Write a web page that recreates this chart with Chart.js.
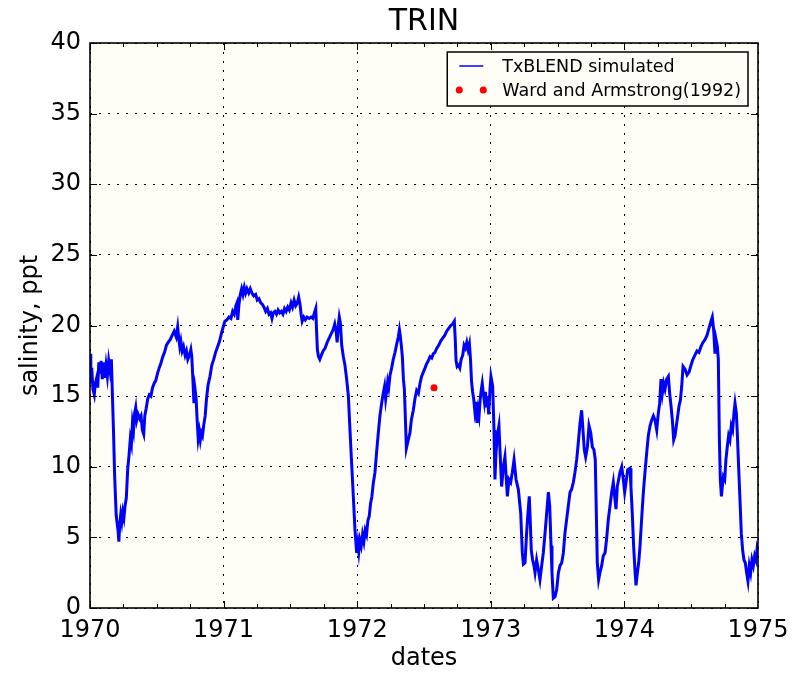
<!DOCTYPE html>
<html>
<head>
<meta charset="utf-8">
<script src="https://cdn.jsdelivr.net/npm/chart.js@4"></script>
<style>
  html, body { margin: 0; padding: 0; background: #ffffff; }
  #wrap { width: 793px; height: 673px; }
</style>
</head>
<body>
<div id="wrap"><canvas id="trinChart"></canvas></div>
<script>
// axis ticks
const yearTicks = [1970, 1971, 1972, 1973, 1974, 1975];
const salinityTicks = [0, 5, 10, 15, 20, 25, 30, 35, 40];

// TxBLEND simulated salinity (decimal year, ppt)
const simDates = [
  1970.000, 1970.006, 1970.013, 1970.022, 1970.032, 1970.040, 1970.050, 1970.058, 1970.066, 1970.075,
  1970.083, 1970.092, 1970.100, 1970.110, 1970.120, 1970.130, 1970.140, 1970.150, 1970.160, 1970.168,
  1970.176, 1970.184, 1970.190, 1970.196, 1970.203, 1970.210, 1970.216, 1970.222, 1970.230, 1970.238,
  1970.246, 1970.254, 1970.262, 1970.272, 1970.282, 1970.292, 1970.302, 1970.310, 1970.318, 1970.326,
  1970.334, 1970.342, 1970.350, 1970.360, 1970.372, 1970.382, 1970.392, 1970.402, 1970.410, 1970.420,
  1970.432, 1970.444, 1970.456, 1970.468, 1970.480, 1970.492, 1970.505, 1970.518, 1970.530, 1970.545,
  1970.558, 1970.572, 1970.585, 1970.600, 1970.615, 1970.630, 1970.645, 1970.656, 1970.665, 1970.672,
  1970.680, 1970.690, 1970.700, 1970.712, 1970.722, 1970.732, 1970.745, 1970.755, 1970.762, 1970.770,
  1970.778, 1970.786, 1970.794, 1970.802, 1970.810, 1970.818, 1970.826, 1970.834, 1970.842, 1970.852,
  1970.862, 1970.872, 1970.884, 1970.898, 1970.912, 1970.926, 1970.940, 1970.955, 1970.970, 1970.985,
  1971.000, 1971.010, 1971.025, 1971.040, 1971.055, 1971.068, 1971.080, 1971.092, 1971.100, 1971.106,
  1971.115, 1971.125, 1971.135, 1971.145, 1971.155, 1971.165, 1971.175, 1971.188, 1971.200, 1971.212,
  1971.225, 1971.240, 1971.252, 1971.265, 1971.278, 1971.290, 1971.302, 1971.315, 1971.328, 1971.340,
  1971.352, 1971.362, 1971.372, 1971.384, 1971.396, 1971.408, 1971.420, 1971.432, 1971.444, 1971.456,
  1971.468, 1971.480, 1971.492, 1971.505, 1971.516, 1971.528, 1971.540, 1971.552, 1971.562, 1971.572,
  1971.580, 1971.588, 1971.600, 1971.612, 1971.625, 1971.640, 1971.655, 1971.668, 1971.680, 1971.690,
  1971.696, 1971.702, 1971.710, 1971.720, 1971.732, 1971.745, 1971.760, 1971.775, 1971.790, 1971.805,
  1971.820, 1971.832, 1971.842, 1971.850, 1971.858, 1971.866, 1971.874, 1971.884, 1971.896, 1971.908,
  1971.921, 1971.934, 1971.946, 1971.958, 1971.971, 1971.983, 1971.996,
  1972.005, 1972.012, 1972.020, 1972.030, 1972.040, 1972.050, 1972.060, 1972.070, 1972.080, 1972.090,
  1972.100, 1972.110, 1972.120, 1972.133, 1972.145, 1972.158, 1972.170, 1972.183, 1972.195, 1972.205,
  1972.213, 1972.221, 1972.228, 1972.236, 1972.246, 1972.258, 1972.270, 1972.283, 1972.296, 1972.308,
  1972.316, 1972.322, 1972.330, 1972.338, 1972.346, 1972.353, 1972.360, 1972.368, 1972.375, 1972.385,
  1972.395, 1972.405, 1972.420, 1972.432, 1972.445, 1972.458, 1972.470, 1972.482, 1972.495, 1972.508,
  1972.520, 1972.532, 1972.545, 1972.558, 1972.570, 1972.582, 1972.596, 1972.610, 1972.625, 1972.640,
  1972.655, 1972.670, 1972.685, 1972.700, 1972.714, 1972.727, 1972.734, 1972.740, 1972.748, 1972.758,
  1972.768, 1972.778, 1972.790, 1972.800, 1972.810, 1972.820, 1972.830, 1972.840, 1972.848, 1972.856,
  1972.864, 1972.872, 1972.880, 1972.888, 1972.896, 1972.905, 1972.912, 1972.920, 1972.928, 1972.936,
  1972.944, 1972.952, 1972.960, 1972.968, 1972.976, 1972.984, 1972.994,
  1973.001, 1973.014, 1973.024, 1973.031, 1973.039, 1973.049, 1973.061, 1973.071, 1973.081, 1973.094,
  1973.106, 1973.124, 1973.136, 1973.149, 1973.161, 1973.174, 1973.189, 1973.206, 1973.224, 1973.236,
  1973.244, 1973.256, 1973.268, 1973.278, 1973.288, 1973.296, 1973.303, 1973.313, 1973.323, 1973.331,
  1973.343, 1973.356, 1973.368, 1973.381, 1973.393, 1973.406, 1973.418, 1973.431, 1973.441, 1973.451,
  1973.458, 1973.468, 1973.481, 1973.493, 1973.506, 1973.518, 1973.531, 1973.543, 1973.555, 1973.568,
  1973.580, 1973.593, 1973.605, 1973.618, 1973.630, 1973.643, 1973.655, 1973.668, 1973.680, 1973.690,
  1973.700, 1973.710, 1973.723, 1973.735, 1973.748, 1973.760, 1973.772, 1973.782, 1973.790, 1973.797,
  1973.807, 1973.817, 1973.830, 1973.842, 1973.855, 1973.867, 1973.880, 1973.892, 1973.905, 1973.917,
  1973.927, 1973.937, 1973.947, 1973.957, 1973.967, 1973.980, 1973.992,
  1974.002, 1974.012, 1974.025, 1974.042, 1974.049, 1974.059, 1974.069, 1974.079, 1974.087, 1974.097,
  1974.107, 1974.117, 1974.129, 1974.142, 1974.154, 1974.167, 1974.179, 1974.192, 1974.204, 1974.217,
  1974.229, 1974.242, 1974.254, 1974.264, 1974.274, 1974.284, 1974.294, 1974.304, 1974.316, 1974.329,
  1974.339, 1974.349, 1974.359, 1974.369, 1974.379, 1974.389, 1974.399, 1974.409, 1974.419, 1974.429,
  1974.439, 1974.454, 1974.469, 1974.484, 1974.499, 1974.513, 1974.528, 1974.543, 1974.558, 1974.573,
  1974.588, 1974.603, 1974.618, 1974.633, 1974.648, 1974.658, 1974.668, 1974.678, 1974.686, 1974.696,
  1974.703, 1974.711, 1974.718, 1974.726, 1974.733, 1974.741, 1974.751, 1974.760, 1974.770, 1974.780,
  1974.790, 1974.800, 1974.810, 1974.820, 1974.828, 1974.838, 1974.845, 1974.855, 1974.865, 1974.875,
  1974.885, 1974.895, 1974.905, 1974.915, 1974.925, 1974.935, 1974.945, 1974.955, 1974.965, 1974.975,
  1974.985, 1974.995, 1975.000
];
const simSalinity = [
  18.0, 15.9, 17.0, 15.5, 15.1, 15.9, 16.3, 15.6, 17.4, 16.6,
  17.5, 16.2, 17.4, 16.3, 17.2, 16.4, 17.5, 16.8, 17.6, 15.0,
  12.5, 9.5, 8.0, 6.6, 6.0, 5.5, 4.7, 5.8, 6.6, 6.1,
  6.8, 6.4, 7.2, 7.8, 9.8, 10.8, 12.0, 11.6, 13.1, 12.6,
  13.8, 14.2, 13.3, 13.7, 13.4, 13.6, 12.6, 12.3, 13.6, 14.1,
  14.8, 15.1, 15.0, 15.6, 15.9, 16.1, 16.6, 17.0, 17.3, 17.8,
  18.1, 18.6, 18.8, 19.0, 19.3, 19.6, 19.2, 19.9, 19.0, 18.5,
  18.9, 18.2, 18.5, 17.9, 18.2, 17.6, 17.9, 18.3, 17.8, 16.2,
  14.5, 15.5, 14.9, 13.3, 12.0, 12.5, 11.9, 12.4, 12.2, 13.0,
  13.6, 14.8, 15.8, 16.4, 17.2, 17.6, 18.1, 18.5, 18.9, 19.5,
  20.0, 20.3, 20.4, 20.6, 20.5, 21.0, 20.8, 21.4, 21.6, 20.4,
  21.5, 22.2, 22.6, 22.2, 22.7, 22.3, 22.6, 22.3, 22.6, 22.3,
  22.1, 22.2, 21.8, 21.9, 21.6, 21.5, 21.3, 21.0, 21.2, 20.8,
  20.9, 20.5, 20.9, 21.0, 20.8, 21.1, 20.9, 21.0, 20.8, 21.2,
  21.0, 21.3, 21.1, 21.6, 21.3, 21.8, 21.4, 21.6, 22.0, 21.5,
  20.8, 20.3, 20.6, 20.4, 20.6, 20.5, 20.6, 20.5, 20.9, 21.2,
  19.6, 18.3, 17.8, 17.6, 17.9, 18.2, 18.4, 18.8, 19.1, 19.4,
  19.7, 20.1, 19.6, 18.8, 19.9, 20.6, 20.2, 18.6, 17.8, 17.2,
  16.2, 15.0, 12.6, 10.3, 7.9, 5.6, 3.9,
  4.6, 4.0, 4.8, 4.4, 5.2, 4.7, 5.5, 5.2, 6.2, 6.5,
  7.4, 7.9, 8.8, 9.6, 11.0, 12.4, 13.6, 14.5, 15.2, 15.7,
  14.8, 15.4, 16.0, 15.6, 16.5, 17.0, 17.6, 18.1, 18.7, 19.2,
  19.7, 19.3, 18.6, 17.8, 16.2, 15.5, 13.6, 11.3, 11.6, 12.0,
  12.4, 13.3, 14.0, 14.8, 15.4, 15.2, 15.9, 16.4, 16.7, 17.0,
  17.3, 17.5, 17.8, 17.7, 18.0, 18.1, 18.4, 18.6, 18.9, 19.1,
  19.3, 19.6, 19.8, 20.0, 20.1, 20.3, 19.0, 17.5, 17.1, 17.2,
  17.0, 17.6, 17.9, 18.6, 18.4, 18.8, 18.3, 18.7, 17.6, 16.0,
  15.3, 14.8, 14.0, 14.6, 13.1, 14.0, 13.6, 14.7, 15.4, 15.9,
  15.2, 14.6, 15.3, 14.2, 15.0, 13.7, 15.5,
  16.4, 15.7, 12.6, 9.1, 11.0, 12.2, 12.9, 10.7, 8.6, 10.0,
  10.7, 7.9, 9.1, 8.9, 9.6, 10.5, 9.1, 8.4, 6.7, 3.9,
  3.1, 3.2, 5.3, 6.7, 7.9, 6.0, 4.1, 3.4, 3.0, 2.5,
  3.4, 2.7, 2.0, 3.0, 3.9, 5.3, 6.7, 8.2, 7.2, 4.4,
  2.5, 0.7, 0.8, 1.3, 2.5, 3.0, 3.2, 3.9, 5.3, 6.3,
  7.2, 8.2, 8.4, 8.9, 9.6, 10.5, 11.7, 13.1, 14.0, 12.6,
  11.2, 10.7, 11.4, 12.9, 12.4, 11.4, 11.2, 10.5, 6.7, 3.2,
  2.0, 2.5, 3.0, 3.7, 3.9, 4.9, 6.3, 7.2, 8.2, 8.9,
  7.9, 7.0, 8.6, 9.1, 9.6, 10.0, 9.1,
  8.2, 8.9, 9.8, 9.9, 8.6, 6.7, 4.4, 2.7, 1.6, 2.5,
  3.2, 4.4, 6.3, 8.2, 9.6, 11.0, 12.2, 12.9, 13.3, 13.6,
  13.3, 12.6, 13.8, 14.5, 16.2, 15.2, 15.9, 15.5, 16.2, 16.4,
  15.2, 14.3, 13.3, 11.9, 12.2, 12.9, 13.6, 14.3, 14.7, 15.7,
  17.1, 16.9, 16.5, 16.7, 17.2, 17.6, 17.9, 18.2, 18.1, 18.5,
  18.8, 19.0, 19.3, 19.8, 20.3, 20.6, 19.7, 18.0, 19.0, 18.5,
  17.6, 11.9, 9.1, 7.9, 8.6, 9.3, 9.1, 10.5, 11.4, 12.2,
  11.9, 12.9, 12.6, 13.8, 14.5, 13.8, 12.4, 10.0, 7.7, 5.3,
  4.1, 3.4, 3.2, 2.5, 1.9, 3.0, 2.5, 3.4, 3.0, 3.7,
  3.4, 4.4, 4.3
];

// Ward and Armstrong (1992) observation
const obsDates = [1972.575];
const obsSalinity = [15.6];

const plotBg = '#fefef6';
const baseFont = 'DejaVu Sans';

// plot background behind the data
const plotBackground = {
  id: 'plotBackground',
  beforeDraw(chart) {
    const {ctx, chartArea: a} = chart;
    ctx.save();
    ctx.fillStyle = plotBg;
    ctx.fillRect(a.left, a.top, a.right - a.left, a.bottom - a.top);
    ctx.restore();
  }
};

// solid frame with inward ticks on all four sides
const frameTicks = {
  id: 'frameTicks',
  afterDatasetsDraw(chart) {
    const {ctx, chartArea: a, scales} = chart;
    const xs = scales.x, ys = scales.y;
    ctx.save();
    ctx.strokeStyle = '#000';
    ctx.lineWidth = 1;
    ctx.beginPath();
    for (let i = 0; i < yearTicks.length - 1; i++) {
      for (let q = 0; q < 4; q++) {
        const px = Math.round(xs.getPixelForValue(yearTicks[i] + q * 0.25)) + 0.5;
        const len = q === 0 ? 7 : 4;
        ctx.moveTo(px, a.bottom); ctx.lineTo(px, a.bottom - len);
        ctx.moveTo(px, a.top); ctx.lineTo(px, a.top + len);
      }
    }
    salinityTicks.forEach(v => {
      const py = Math.round(ys.getPixelForValue(v)) + 0.5;
      ctx.moveTo(a.left, py); ctx.lineTo(a.left + 7, py);
      ctx.moveTo(a.right, py); ctx.lineTo(a.right - 7, py);
    });
    ctx.stroke();
    ctx.lineWidth = 1.6;
    ctx.strokeRect(a.left, a.top, a.right - a.left, a.bottom - a.top);
    ctx.restore();
  }
};

// legend box in the upper right corner of the plot
const insideLegend = {
  id: 'insideLegend',
  afterDraw(chart) {
    const {ctx, chartArea: a} = chart;
    const sets = chart.data.datasets;
    ctx.save();
    ctx.font = '17.5px "' + baseFont + '"';
    const textW = Math.max(...sets.map(d => ctx.measureText(d.label).width));
    const right = a.right - 10, top = a.top + 9;
    const w = textW + 62, h = 54;
    const left = right - w;
    ctx.fillStyle = plotBg;
    ctx.fillRect(left, top, w, h);
    ctx.strokeStyle = '#000';
    ctx.lineWidth = 1.5;
    ctx.strokeRect(left, top, w, h);
    ctx.textBaseline = 'middle';
    sets.forEach((d, i) => {
      const y = top + 14 + i * 24;
      if (d.showLine === false) {
        ctx.fillStyle = d.backgroundColor;
        [left + 12, left + 36].forEach(x => {
          ctx.beginPath(); ctx.arc(x, y, d.pointRadius, 0, Math.PI * 2); ctx.fill();
        });
      } else {
        ctx.strokeStyle = d.borderColor;
        ctx.lineWidth = 1.5;
        ctx.beginPath(); ctx.moveTo(left + 12, y); ctx.lineTo(left + 36, y); ctx.stroke();
      }
      ctx.fillStyle = '#000';
      ctx.fillText(d.label, left + 55, y + 1);
    });
    ctx.restore();
  }
};

const tickFont = {family: baseFont, size: 24};

new Chart(document.getElementById('trinChart').getContext('2d'), {
  type: 'line',
  data: {
    datasets: [
      {
        label: 'TxBLEND simulated',
        data: simDates.map((d, i) => ({x: d, y: simSalinity[i]})),
        borderColor: '#0000ff',
        backgroundColor: '#0000ff',
        borderWidth: 3,
        pointRadius: 0,
        tension: 0
      },
      {
        label: 'Ward and Armstrong(1992)',
        data: obsDates.map((d, i) => ({x: d, y: obsSalinity[i]})),
        showLine: false,
        borderColor: '#ff0000',
        backgroundColor: '#ff0000',
        borderWidth: 0,
        pointRadius: 3.5
      }
    ]
  },
  options: {
    responsive: true,
    maintainAspectRatio: false,
    animation: false,
    layout: {padding: {left: 0, right: 35, top: 0, bottom: 0}},
    plugins: {
      legend: {display: false},
      tooltip: {enabled: false},
      title: {
        display: true,
        fullSize: false,
        text: 'TRIN',
        color: '#000',
        font: {family: baseFont, size: 30, weight: 'normal'},
        padding: {top: 4, bottom: 3}
      }
    },
    scales: {
      x: {
        type: 'linear',
        min: 1970,
        max: 1975,
        afterBuildTicks: s => { s.ticks = yearTicks.map(v => ({value: v})); },
        afterFit: s => { s.height = 65; s.paddingLeft = 0; s.paddingRight = 0; },
        ticks: {
          color: '#000',
          font: tickFont,
          padding: 8,
          maxRotation: 0,
          autoSkip: false,
          callback: v => String(v)
        },
        grid: {color: '#000', lineWidth: 1, drawTicks: false},
        border: {display: false, dash: [2, 7]},
        title: {
          display: true,
          text: 'dates',
          color: '#000',
          font: tickFont,
          padding: {top: 0, bottom: 0}
        }
      },
      y: {
        min: 0,
        max: 40,
        afterBuildTicks: s => { s.ticks = salinityTicks.map(v => ({value: v})); },
        afterFit: s => { s.width = 90; s.paddingTop = 0; s.paddingBottom = 0; },
        ticks: {
          color: '#000',
          font: tickFont,
          padding: 9,
          autoSkip: false,
          callback: v => String(v)
        },
        grid: {color: '#000', lineWidth: 1, drawTicks: false},
        border: {display: false, dash: [2, 7]},
        title: {
          display: true,
          text: 'salinity, ppt',
          color: '#000',
          font: tickFont,
          padding: {top: 16, bottom: 0}
        }
      }
    }
  },
  plugins: [plotBackground, frameTicks, insideLegend]
});
</script>
</body>
</html>
